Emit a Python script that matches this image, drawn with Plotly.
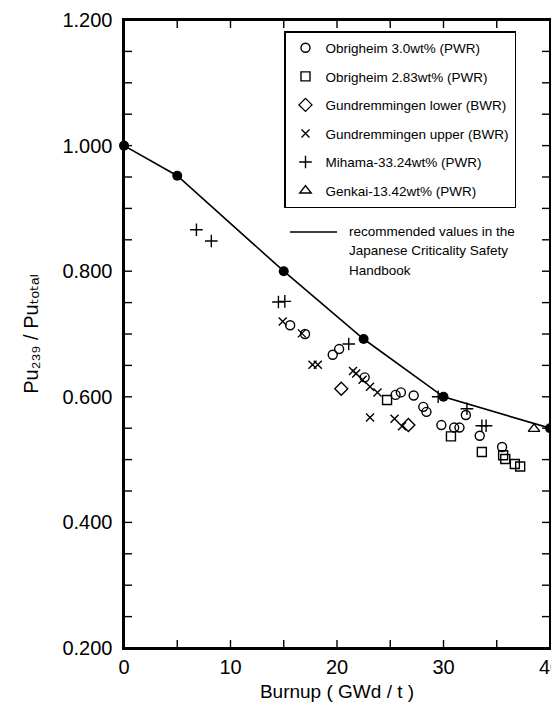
import plotly.graph_objects as go

# ---- data ----
obr30_x = [15.6, 17.0, 19.6, 20.2, 22.6, 25.5, 26.0, 27.2, 28.1, 28.4, 29.8, 31.0, 31.5, 32.1, 33.4, 35.5]
obr30_y = [0.714, 0.700, 0.667, 0.676, 0.631, 0.603, 0.607, 0.602, 0.584, 0.576, 0.555, 0.551, 0.551, 0.571, 0.538, 0.520]

obr283_x = [24.7, 30.7, 33.6, 35.6, 35.8, 36.7, 37.2]
obr283_y = [0.595, 0.537, 0.512, 0.507, 0.501, 0.493, 0.489]

gund_low_x = [20.4, 26.7]
gund_low_y = [0.613, 0.555]

gund_up_x = [14.9, 16.7, 17.7, 18.2, 21.5, 21.8, 22.4, 23.1, 23.8, 23.1, 25.4, 26.1]
gund_up_y = [0.720, 0.701, 0.651, 0.651, 0.641, 0.637, 0.627, 0.616, 0.607, 0.567, 0.565, 0.553]

mihama_x = [6.8, 8.2, 14.5, 15.1, 21.1, 29.5, 32.2, 33.6, 34.0]
mihama_y = [0.866, 0.848, 0.751, 0.752, 0.684, 0.600, 0.581, 0.554, 0.554]

genkai_x = [38.5]
genkai_y = [0.549]

rec_x = [0, 5, 15, 22.5, 30, 40]
rec_y = [1.000, 0.952, 0.800, 0.692, 0.600, 0.550]

series_names = [
    "Obrigheim 3.0wt% (PWR)",
    "Obrigheim 2.83wt% (PWR)",
    "Gundremmingen lower (BWR)",
    "Gundremmingen upper (BWR)",
    "Mihama-33.24wt% (PWR)",
    "Genkai-13.42wt% (PWR)",
]
rec_label_lines = ["recommended values in the", "Japanese Criticality Safety", "Handbook"]

x_ticks = [0, 10, 20, 30, 40]
y_ticks = [0.2, 0.4, 0.6, 0.8, 1.0, 1.2]
x_minor_step = 5
y_minor_step = 0.05

# ---- geometry (page has an 8px body margin) ----
W, H = 560, 697
ML, MR, MT, MB = 116, 18, 12, 57
PW, PH = W - ML - MR, H - MT - MB
TICK = 8
INK = "black"


def px(page_x):
    return (page_x - 8 - ML) / PW


def py(page_y):
    return 1 - (page_y - 8 - MT) / PH


x0, x1 = x_ticks[0], x_ticks[-1]
y0, y1 = y_ticks[0], y_ticks[-1]
x_all = [x0 + x_minor_step * k for k in range(int(round((x1 - x0) / x_minor_step)) + 1)]
y_all = [round(y0 + y_minor_step * k, 3) for k in range(int(round((y1 - y0) / y_minor_step)) + 1)]

# ---- figure ----
fig = go.Figure()

# plot frame and inward ticks on all four sides (trace copy of the axis box)
fig.add_trace(go.Scatter(x=[x0, x1, x1, x0, x0], y=[y0, y0, y1, y1, y0], mode="lines",
                         line=dict(color=INK, width=2), cliponaxis=False,
                         showlegend=False, hoverinfo="skip"))
tick_dx = TICK / PW * (x1 - x0)
tick_dy = TICK / PH * (y1 - y0)
tx, ty = [], []
for v in x_all[1:-1]:
    tx += [v, v, None, v, v, None]
    ty += [y0, y0 + tick_dy, None, y1, y1 - tick_dy, None]
for v in y_all[1:-1]:
    tx += [x0, x0 + tick_dx, None, x1, x1 - tick_dx, None]
    ty += [v, v, None, v, v, None]
fig.add_trace(go.Scatter(x=tx, y=ty, mode="lines", line=dict(color=INK, width=1.4),
                         cliponaxis=False, showlegend=False, hoverinfo="skip"))

fig.add_trace(go.Scatter(x=rec_x, y=rec_y, mode="lines",
                         line=dict(color="black", width=1.6), showlegend=False))
fig.add_trace(go.Scatter(x=rec_x, y=rec_y, mode="markers", cliponaxis=False,
                         marker=dict(color="black", size=10, symbol="circle"), showlegend=False))

styles = [
    ("circle-open", 9),
    ("square-open", 9),
    ("diamond-open", 10),
    ("x-thin-open", 8),
    ("cross-thin-open", 9),
    ("triangle-up-open", 10),
]
data = [(obr30_x, obr30_y), (obr283_x, obr283_y), (gund_low_x, gund_low_y),
        (gund_up_x, gund_up_y), (mihama_x, mihama_y), (genkai_x, genkai_y)]

for i, ((xs, ys), (sym, sz), name) in enumerate(zip(data, styles, series_names)):
    fig.add_trace(go.Scatter(
        x=xs, y=ys, mode="markers", name=name, legendgroup=f"g{i}",
        marker=dict(symbol=sym, size=sz, color="black",
                    line=dict(color="black", width=1.4)),
    ))

FONT = "Liberation Sans, DejaVu Sans, sans-serif"

fig.update_layout(
    xaxis=dict(
        range=[x0, x1], tickmode="array", tickvals=x_ticks,
        ticktext=[f"{v}" for v in x_ticks],
        showline=True, linecolor=INK, linewidth=2, mirror=True,
        ticks="", showgrid=False, zeroline=False, ticklabeloverflow="allow",
        tickfont=dict(family=FONT, size=20, color="black"),
        title=dict(text="Burnup ( GWd / t )", font=dict(family=FONT, size=19, color="black"), standoff=8),
    ),
    yaxis=dict(
        range=[y0, y1], tickmode="array", tickvals=y_ticks,
        ticktext=[f"{v:.3f}\u00a0" for v in y_ticks],
        showline=True, linecolor=INK, linewidth=2, mirror=True,
        ticks="", showgrid=False, zeroline=False,
        tickfont=dict(family=FONT, size=20, color="black"),
        title=dict(text="Pu\u2082\u2083\u2089 / Pu\u209c\u2092\u209c\u2090\u2097",
                   font=dict(family=FONT, size=20, color="black"), standoff=18),
    ),
)

annotations = []
for k, line in enumerate(rec_label_lines):
    annotations.append(dict(text=line, xref="paper", yref="paper",
                            x=px(347), y=py(232 + 19 * k), xanchor="left", yanchor="middle",
                            align="left", showarrow=False,
                            font=dict(family=FONT, size=13.5, color="black")))

fig.update_layout(
    width=W, height=H,
    margin=dict(l=ML, r=MR, t=MT, b=MB, autoexpand=False),
    plot_bgcolor="white", paper_bgcolor="white",
    legend=dict(
        x=px(284), y=py(31), xanchor="left", yanchor="top",
        bordercolor="black", borderwidth=1.5, bgcolor="white",
        font=dict(family=FONT, size=13.5, color="black"),
        tracegroupgap=8, itemsizing="trace",
    ),
    shapes=[dict(type="line", xref="paper", yref="paper",
                 x0=px(290), x1=px(337), y0=py(232), y1=py(232),
                 line=dict(color="black", width=1.4))],
    annotations=annotations,
)

fig.write_html("out.html")
